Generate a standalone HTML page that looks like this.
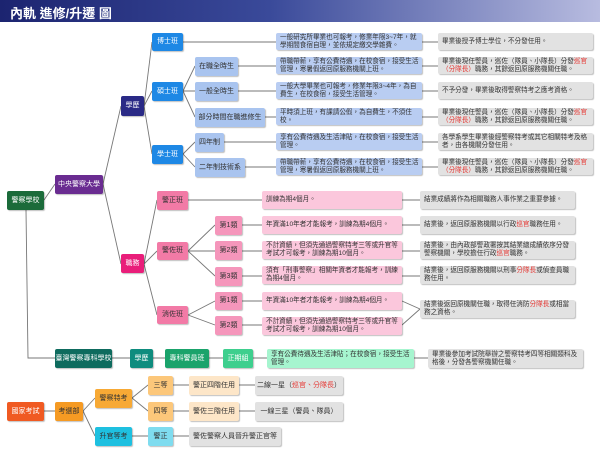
<!DOCTYPE html>
<html><head><meta charset="utf-8"><style>
*{margin:0;padding:0;box-sizing:border-box}
body{width:600px;height:455px;background:#fff;position:relative;overflow:hidden;font-family:"Liberation Sans","Noto Sans CJK TC",sans-serif}
.t{position:absolute;left:0;top:0;width:600px;height:22px;background:linear-gradient(90deg,#1c2470 0%,#3a4a9a 45%,#b8bce0 100%)}
.t span{position:absolute;left:10px;top:3px;color:#fff;font-weight:bold;font-size:13px}
.n{position:absolute;display:flex;align-items:center;justify-content:center;font-size:7px;line-height:8px;border-radius:2px;color:#333;box-shadow:1px 1px 1px rgba(0,0,0,.25);text-align:center;white-space:nowrap}
.d{justify-content:flex-start;text-align:left;padding:0 3px 0 4px;font-size:6.6px;line-height:7.8px;white-space:normal}
.w{color:#fff}
.r{color:#e53935}
svg{position:absolute;left:0;top:0}
</style></head><body>
<div class="t"><span>內軌 進修/升遷 圖</span></div>
<svg width="600" height="455"><g stroke="#777" stroke-width="0.9" fill="none">
<path d="M44 200L55 184"/><path d="M26 210L28 358L55 358"/>
<path d="M103 184L121 106"/><path d="M103 184L121 264"/>
<path d="M144 106L152 42M144 106L152 91M144 106L152 154"/>
<path d="M183 42L276 42"/><path d="M183 91L195 66M183 91L195 91M183 91L195 117M183 154L195 142M183 154L195 167"/>
<path d="M238 66L276 66M238 91L276 91M265 117L276 117M224 142L276 142M245 167L276 167"/>
<path d="M422 42L438 42M422 66L438 66M422 91L438 91M422 117L438 117M422 142L438 142M422 167L438 167"/>
<path d="M144 264L157 200M144 264L157 251M144 264L157 315"/>
<path d="M188 200L262 200M188 251L215 225M188 251L215 251M188 251L215 276M188 315L215 301M188 315L215 325"/>
<path d="M242 225L262 225M242 251L262 251M242 276L262 276M242 301L262 301M242 325L262 325"/>
<path d="M402 200L420 200M402 225L420 225M402 251L420 251M402 276L420 276M402 301L420 309M402 325L420 309"/>
<path d="M112 358L130 358M153 358L165 358M209 358L223 358M253 358L267 358M414 358L428 358"/>
<path d="M44 411L55 411M83 411L95 398M83 411L95 436M132 398L148 385M132 398L148 411M132 436L148 436"/>
<path d="M173 385L189 385M173 411L189 411M173 436L189 436M239 385L255 385M239 411L255 411"/>
</g></svg>
<div class="n w" style="left:7px;top:191px;width:37px;height:19px;background:#1b6b3a">警察學校</div>
<div class="n w" style="left:55px;top:175px;width:48px;height:19px;background:#6a2c91">中央警察大學</div>
<div class="n w" style="left:121px;top:96px;width:23px;height:20px;background:#2a2a86">學歷</div>
<div class="n w" style="left:152px;top:33px;width:31px;height:18px;background:#1e88e5">博士班</div>
<div class="n w" style="left:152px;top:82px;width:31px;height:19px;background:#1e88e5">碩士班</div>
<div class="n w" style="left:152px;top:145px;width:31px;height:19px;background:#1e88e5">學士班</div>
<div class="n" style="left:195px;top:57px;width:43px;height:19px;background:#a9c4ef">在職全時生</div>
<div class="n" style="left:195px;top:82px;width:43px;height:19px;background:#a9c4ef">一般全時生</div>
<div class="n" style="left:195px;top:108px;width:70px;height:19px;background:#a9c4ef">部分時間在職進修生</div>
<div class="n" style="left:195px;top:133px;width:29px;height:19px;background:#a9c4ef">四年制</div>
<div class="n" style="left:195px;top:158px;width:50px;height:19px;background:#a9c4ef">二年制技術系</div>
<div class="n d" style="left:276px;top:33px;width:146px;height:17px;background:#b9cdf2">一般研究所畢業也可報考，修業年限3~7年，就學期間食宿自理，並依規定繳交學雜費。</div>
<div class="n d" style="left:276px;top:57px;width:146px;height:17px;background:#b9cdf2">帶職帶薪，享有公費待遇，在校食宿，接受生活管理，寒暑假返回原服務機關上班。</div>
<div class="n d" style="left:276px;top:82px;width:146px;height:17px;background:#b9cdf2">一般大學畢業也可報考，修業年限3~4年，為自費生，在校食宿，接受生活管理。</div>
<div class="n d" style="left:276px;top:108px;width:146px;height:17px;background:#b9cdf2">平時須上班，有課請公假，為自費生，不須住校。</div>
<div class="n d" style="left:276px;top:133px;width:146px;height:17px;background:#b9cdf2">享有公費待遇及生活津貼，在校食宿，接受生活管理。</div>
<div class="n d" style="left:276px;top:158px;width:146px;height:17px;background:#b9cdf2">帶職帶薪，享有公費待遇，在校食宿，接受生活管理，寒暑假返回原服務機關上班。</div>
<div class="n d" style="left:438px;top:33px;width:155px;height:17px;background:#e2e2e2">畢業後授予博士學位，不分發任用。</div>
<div class="n d" style="left:438px;top:57px;width:155px;height:17px;background:#e2e2e2"><span>畢業後現任警員，巡佐（隊員、小隊長）分發<span class="r">巡官（分隊長）</span>職務，其餘返回原服務機關任職。</span></div>
<div class="n d" style="left:438px;top:82px;width:155px;height:17px;background:#e2e2e2">不予分發，畢業後取得警察特考之應考資格。</div>
<div class="n d" style="left:438px;top:108px;width:155px;height:17px;background:#e2e2e2"><span>畢業後現任警員，巡佐（隊員、小隊長）分發<span class="r">巡官（分隊長）</span>職務，其餘返回原服務機關任職。</span></div>
<div class="n d" style="left:438px;top:133px;width:155px;height:17px;background:#e2e2e2">各學系學生畢業後經警察特考或其它相關特考及格者，由各機關分發任用。</div>
<div class="n d" style="left:438px;top:158px;width:155px;height:17px;background:#e2e2e2"><span>畢業後現任警員，巡佐（隊員、小隊長）分發<span class="r">巡官（分隊長）</span>職務，其餘返回原服務機關任職。</span></div>
<div class="n w" style="left:121px;top:254px;width:23px;height:19px;background:#e91e7a">職務</div>
<div class="n" style="left:157px;top:191px;width:31px;height:19px;background:#f27aa6">警正班</div>
<div class="n" style="left:157px;top:242px;width:31px;height:18px;background:#f27aa6">警佐班</div>
<div class="n" style="left:157px;top:306px;width:31px;height:18px;background:#f27aa6">消佐班</div>
<div class="n" style="left:215px;top:216px;width:27px;height:19px;background:#f596bb">第1類</div>
<div class="n" style="left:215px;top:241px;width:27px;height:19px;background:#f596bb">第2類</div>
<div class="n" style="left:215px;top:267px;width:27px;height:19px;background:#f596bb">第3類</div>
<div class="n" style="left:215px;top:292px;width:27px;height:18px;background:#f596bb">第1類</div>
<div class="n" style="left:215px;top:316px;width:27px;height:19px;background:#f596bb">第2類</div>
<div class="n d" style="left:262px;top:191px;width:140px;height:18px;background:#fbc7dc">訓練為期4個月。</div>
<div class="n d" style="left:262px;top:216px;width:140px;height:18px;background:#fbc7dc">年資滿10年者才能報考，訓練為期4個月。</div>
<div class="n d" style="left:262px;top:241px;width:140px;height:18px;background:#fbc7dc">不計資績，但須先通過警察特考三等或升官等考試才可報考，訓練為期10個月。</div>
<div class="n d" style="left:262px;top:266px;width:140px;height:18px;background:#fbc7dc">須有「刑事警察」相關年資者才能報考，訓練為期4個月。</div>
<div class="n d" style="left:262px;top:292px;width:140px;height:18px;background:#fbc7dc">年資滿10年者才能報考，訓練為期4個月。</div>
<div class="n d" style="left:262px;top:317px;width:140px;height:18px;background:#fbc7dc">不計資績，但須先通過警察特考三等或升官等考試才可報考，訓練為期10個月。</div>
<div class="n d" style="left:420px;top:191px;width:155px;height:18px;background:#e2e2e2">結業成績將作為相關職務人事作業之重要參據。</div>
<div class="n d" style="left:420px;top:216px;width:155px;height:18px;background:#e2e2e2"><span>結業後，返回原服務機關以行政<span class="r">巡官</span>職務任用。</span></div>
<div class="n d" style="left:420px;top:241px;width:155px;height:18px;background:#e2e2e2"><span>結業後，由內政部警政署按其結業總成績依序分發警察機關，學校擔任行政<span class="r">巡官</span>職務。</span></div>
<div class="n d" style="left:420px;top:266px;width:155px;height:18px;background:#e2e2e2"><span>結業後，返回原服務機關以刑事<span class="r">分隊長</span>或偵查員職務任用。</span></div>
<div class="n d" style="left:420px;top:300px;width:155px;height:18px;background:#e2e2e2"><span>結業後返回原機關任職，取得任消防<span class="r">分隊長</span>或相當務之資格。</span></div>
<div class="n w" style="left:55px;top:349px;width:57px;height:19px;background:#0e6b5e">臺灣警察專科學校</div>
<div class="n w" style="left:130px;top:349px;width:23px;height:19px;background:#0e8c7e">學歷</div>
<div class="n w" style="left:165px;top:349px;width:44px;height:19px;background:#1aa36b">專科警員班</div>
<div class="n w" style="left:223px;top:349px;width:30px;height:19px;background:#3ecf8e">正期組</div>
<div class="n d" style="left:267px;top:349px;width:147px;height:19px;background:#a6f5cf">享有公費待遇及生活津貼；在校食宿，接受生活管理。</div>
<div class="n d" style="left:428px;top:349px;width:155px;height:19px;background:#e2e2e2">畢業後參加考試院舉辦之警察特考四等相關類科及格後，分發各警察機關任職。</div>
<div class="n w" style="left:7px;top:402px;width:37px;height:19px;background:#f05a22">國家考試</div>
<div class="n" style="left:55px;top:402px;width:28px;height:19px;background:#f59a23">考選部</div>
<div class="n" style="left:95px;top:389px;width:37px;height:19px;background:#f7a935">警察特考</div>
<div class="n" style="left:95px;top:427px;width:37px;height:19px;background:#1ec0e0">升官等考</div>
<div class="n" style="left:148px;top:376px;width:25px;height:19px;background:#fcc77a">三等</div>
<div class="n" style="left:148px;top:402px;width:25px;height:19px;background:#fcc77a">四等</div>
<div class="n" style="left:148px;top:427px;width:25px;height:19px;background:#7fdcef">警正</div>
<div class="n" style="left:189px;top:376px;width:50px;height:19px;background:#fde6c8">警正四階任用</div>
<div class="n" style="left:189px;top:402px;width:50px;height:19px;background:#fde6c8">警佐三階任用</div>
<div class="n" style="left:255px;top:376px;width:88px;height:19px;background:#e2e2e2"><span>二線一星（<span class="r">巡官、分隊長</span>）</span></div>
<div class="n" style="left:255px;top:402px;width:88px;height:19px;background:#e2e2e2">一線三星（警員、隊員）</div>
<div class="n" style="left:189px;top:427px;width:92px;height:19px;background:#e2e2e2">警佐警察人員晉升警正官等</div>
</body></html>
